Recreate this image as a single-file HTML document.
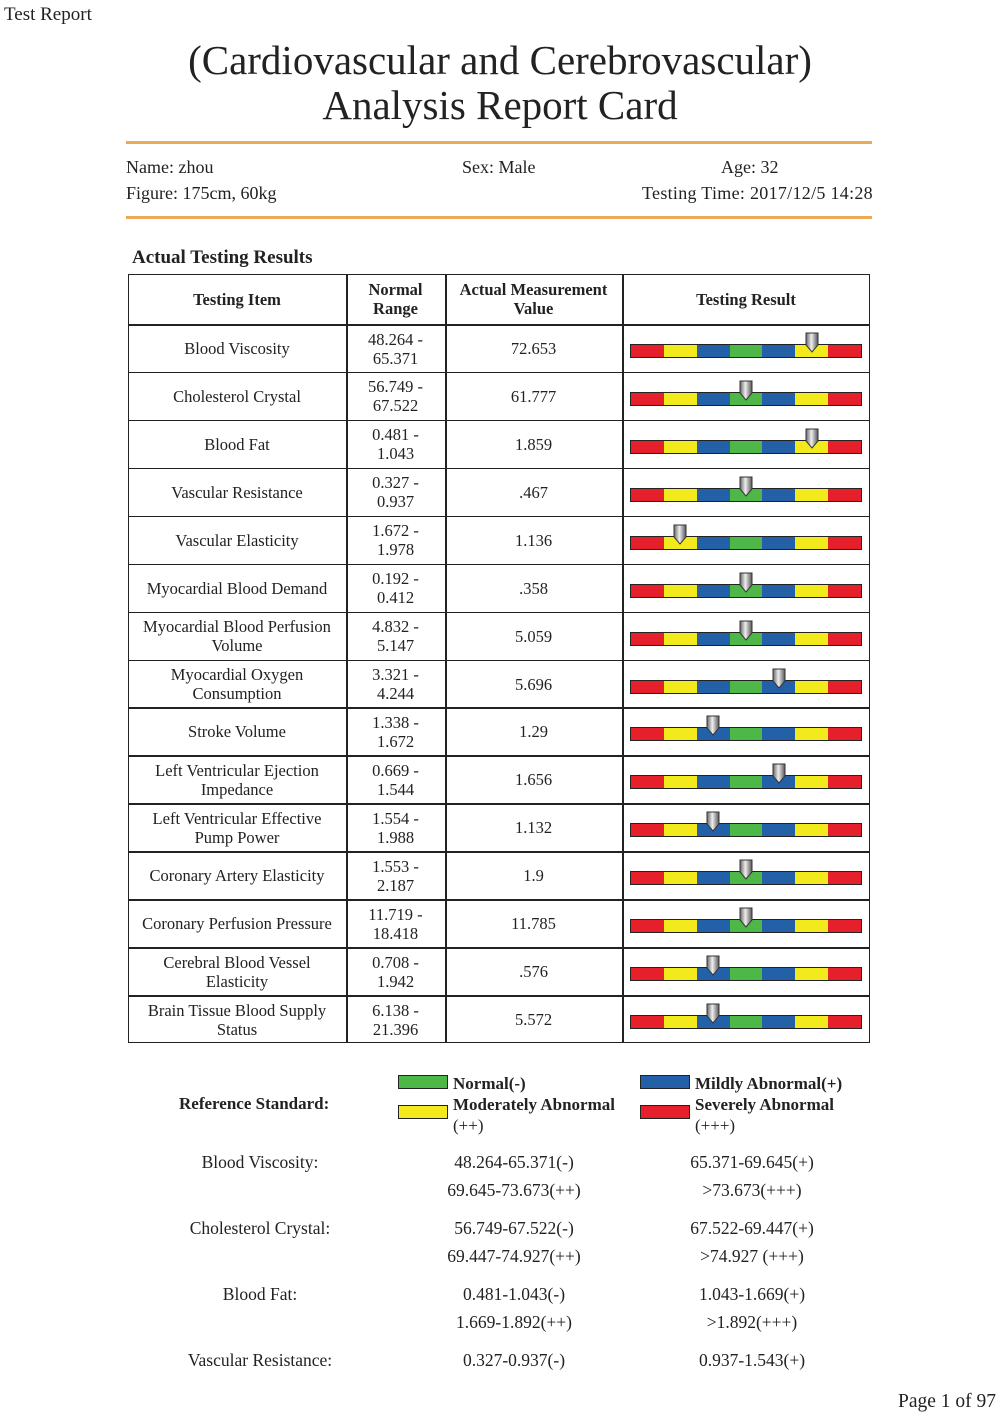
<!DOCTYPE html>
<html><head><meta charset="utf-8"><style>
body{margin:0;background:#fff;}
#p{position:relative;width:1000px;height:1415px;overflow:hidden;font-family:"Liberation Serif",serif;color:#222;}
.a{position:absolute;white-space:nowrap;}
.c{position:absolute;text-align:center;font-size:16.5px;line-height:19px;display:flex;align-items:center;justify-content:center;}
.hl{position:absolute;left:126px;width:746px;height:3px;background:#e9a955;}
.b{font-weight:bold;}
.bar{position:absolute;left:630px;width:232px;height:14px;border:1.5px solid #222;box-sizing:border-box;display:flex;}
.bar div{flex:1;}
.leg{position:absolute;width:48px;height:12px;border:1px solid #222;}
</style></head><body><div id="p">
<div class="a" style="left:4px;top:4px;font-size:19px;">Test Report</div>
<div class="a" style="left:0;width:1000px;text-align:center;top:38px;font-size:41px;line-height:45px;white-space:normal;">(Cardiovascular and Cerebrovascular)<br>Analysis Report Card</div>
<div class="hl" style="top:141px"></div>
<div class="a" style="left:126px;top:157px;font-size:18px;">Name: zhou</div>
<div class="a" style="left:462px;top:157px;font-size:18px;">Sex: Male</div>
<div class="a" style="left:721px;top:157px;font-size:18px;">Age: 32</div>
<div class="a" style="left:126px;top:183px;font-size:18px;">Figure: 175cm, 60kg</div>
<div class="a" style="left:642px;top:183px;font-size:18px;letter-spacing:0.3px">Testing Time: 2017/12/5 14:28</div>
<div class="hl" style="top:216px"></div>
<div class="a b" style="left:132px;top:247px;font-size:19px;">Actual Testing Results</div>
<div id="t"></div>
<div class="a b" style="left:179px;top:1094px;font-size:17px;">Reference Standard:</div>
<div class="leg" style="left:398px;top:1075px;background:#4db848"></div>
<div class="leg" style="left:398px;top:1105px;background:#f2ea1d"></div>
<div class="leg" style="left:640px;top:1075px;background:#2460a7"></div>
<div class="leg" style="left:640px;top:1105px;background:#e5202a"></div>
<div class="a b" style="left:453px;top:1073px;font-size:17px;line-height:21px;">Normal(-)<br>Moderately Abnormal<br><span style="font-weight:normal">(++)</span></div>
<div class="a b" style="left:695px;top:1073px;font-size:17px;line-height:21px;">Mildly Abnormal(+)<br>Severely Abnormal<br><span style="font-weight:normal">(+++)</span></div>
<div id="r"></div>
<div class="a" style="left:898px;top:1391px;font-size:19.5px;">Page 1 of 97</div>
</div>
<script>
var rows=[["Blood Viscosity","48.264 -<br>65.371","72.653",5],["Cholesterol Crystal","56.749 -<br>67.522","61.777",3],["Blood Fat","0.481 -<br>1.043","1.859",5],["Vascular Resistance","0.327 -<br>0.937",".467",3],["Vascular Elasticity","1.672 -<br>1.978","1.136",1],["Myocardial Blood Demand","0.192 -<br>0.412",".358",3],["Myocardial Blood Perfusion<br>Volume","4.832 -<br>5.147","5.059",3],["Myocardial Oxygen<br>Consumption","3.321 -<br>4.244","5.696",4],["Stroke Volume","1.338 -<br>1.672","1.29",2],["Left Ventricular Ejection<br>Impedance","0.669 -<br>1.544","1.656",4],["Left Ventricular Effective<br>Pump Power","1.554 -<br>1.988","1.132",2],["Coronary Artery Elasticity","1.553 -<br>2.187","1.9",3],["Coronary Perfusion Pressure","11.719 -<br>18.418","11.785",3],["Cerebral Blood Vessel<br>Elasticity","0.708 -<br>1.942",".576",2],["Brain Tissue Blood Supply<br>Status","6.138 -<br>21.396","5.572",2]];
var cols=[128,346,445,622,870],h='';
var cl=['#e5202a','#f2ea1d','#2460a7','#4db848','#2460a7','#f2ea1d','#e5202a'];
h+='<div style="position:absolute;left:128px;top:274px;width:742px;height:769px;border:1.5px solid #222;box-sizing:border-box"></div>';
for(var i=1;i<4;i++)h+='<div style="position:absolute;left:'+cols[i]+'px;top:274px;width:1.5px;height:769px;background:#222"></div>';
var hd=["Testing Item","Normal<br>Range","Actual Measurement<br>Value","Testing Result"];
for(var i=0;i<4;i++)h+='<div class="c b" style="left:'+cols[i]+'px;width:'+(cols[i+1]-cols[i])+'px;top:274px;height:50px">'+hd[i]+'</div>';
for(var r=0;r<15;r++){var y=324+r*47.93;
h+='<div style="position:absolute;left:128px;top:'+y+'px;width:742px;height:1.5px;background:#222"></div>';
var d=rows[r];for(var i=0;i<3;i++)h+='<div class="c" style="left:'+cols[i]+'px;width:'+(cols[i+1]-cols[i])+'px;top:'+(y+1)+'px;height:47px">'+d[i]+'</div>';
var by=y+20;h+='<div class="bar" style="top:'+by+'px">';for(var k=0;k<7;k++)h+='<div style="background:'+cl[k]+'"></div>';h+='</div>';
var mx=630+232/14*(2*d[3]+1);
h+='<svg style="position:absolute;left:'+(mx-8)+'px;top:'+(y+8)+'px" width="16" height="22"><defs><linearGradient id="g'+r+'"><stop offset="0" stop-color="#666"/><stop offset=".45" stop-color="#eee"/><stop offset="1" stop-color="#555"/></linearGradient></defs><path d="M2 1H14V13L8 20L2 13Z" fill="url(#g'+r+')" stroke="#333" stroke-width="1"/></svg>';}
document.getElementById('t').innerHTML=h;
var ref=[["Blood Viscosity:","48.264-65.371(-)","65.371-69.645(+)","69.645-73.673(++)",">73.673(+++)"],["Cholesterol Crystal:","56.749-67.522(-)","67.522-69.447(+)","69.447-74.927(++)",">74.927 (+++)"],["Blood Fat:","0.481-1.043(-)","1.043-1.669(+)","1.669-1.892(++)",">1.892(+++)"],["Vascular Resistance:","0.327-0.937(-)","0.937-1.543(+)","",""]];
var g='';for(var r=0;r<4;r++){var y=1152+r*66;var d=ref[r];
g+='<div class="a" style="left:160px;width:200px;text-align:center;top:'+y+'px;font-size:17.5px">'+d[0]+'</div>';
g+='<div class="a" style="left:414px;width:200px;text-align:center;top:'+y+'px;font-size:17.5px">'+d[1]+'</div>';
g+='<div class="a" style="left:652px;width:200px;text-align:center;top:'+y+'px;font-size:17.5px">'+d[2]+'</div>';
g+='<div class="a" style="left:414px;width:200px;text-align:center;top:'+(y+28)+'px;font-size:17.5px">'+d[3]+'</div>';
g+='<div class="a" style="left:652px;width:200px;text-align:center;top:'+(y+28)+'px;font-size:17.5px">'+d[4]+'</div>';}
document.getElementById('r').innerHTML=g;
</script></body></html>
